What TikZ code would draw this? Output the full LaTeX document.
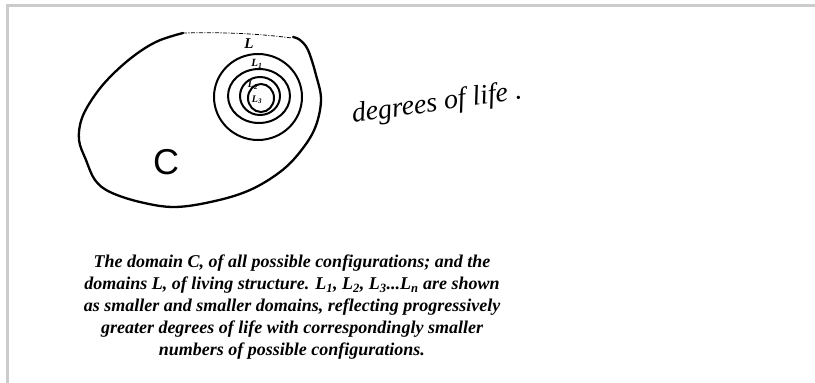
\documentclass[tikz,border=0pt]{standalone}
\usepackage{fontspec}
\setmainfont{Liberation Serif}
\setsansfont{Liberation Sans}

\begin{document}
\begin{tikzpicture}[
  x=1pt,
  y=-1pt,
  frame/.style={draw=black!20, line width=3pt},
  sketch/.style={line width=2.3pt, line cap=round, line join=round},
  ring/.style={line width=2pt},
  fence/.style={line width=0.8pt, dash pattern=on 4pt off 1.5pt on 1pt off 1.5pt},
  hand/.style={font=\itshape, inner sep=0pt},
  caption/.style={font=\fontsize{18}{22}\selectfont\bfseries\itshape, align=center, inner sep=0pt}
]
\useasboundingbox (0,0) rectangle (815,383);
\draw[frame] (7.5,383) -- (7.5,5.5) -- (815,5.5);

\draw[sketch] plot[smooth, tension=0.6] coordinates {(293,37) (300,40) (308,50) (316,75) (321,100) (315,128) (300,152) (280,172) (250,190) (215,201) (175,207) (140,202) (110,192) (95,180) (86,160) (79,140) (82,118) (95,95) (112,75) (135,55) (158,41) (183,33)};
\draw[fence] (183,33) .. controls (230,32) and (260,34) .. (292,38);

\draw[ring] (258,97) ellipse [x radius=44pt, y radius=43pt];
\draw[ring] (259,96) ellipse [x radius=31pt, y radius=27pt];
\draw[ring] (260,96) ellipse [x radius=20pt, y radius=19pt];
\draw[ring] (261,98) ellipse [x radius=13pt, y radius=14pt];

\node[hand, font=\fontsize{15}{15}\selectfont\bfseries\itshape] (lall) at (249,44) {L};
\node[hand, font=\fontsize{11}{11}\selectfont\bfseries\itshape] (lone) at (257,64) {L\textsubscript{1}};
\node[hand, font=\fontsize{10}{10}\selectfont\bfseries\itshape] (ltwo) at (253,85) {L\textsubscript{2}};
\node[hand, font=\fontsize{10}{10}\selectfont\bfseries\itshape] (lthree) at (257,100) {L\textsubscript{3}};

\node[inner sep=0pt, font=\fontsize{36}{36}\selectfont\sffamily] (cdom) at (166,162) {C};
\node[hand, rotate=8, font=\fontsize{28}{28}\selectfont\itshape] (life) at (437,104) {degrees of life .};

\node[caption] (cap) at (292,307) {The domain C, of all possible configurations; and the\\
domains L, of living structure. L\textsubscript{1}, L\textsubscript{2}, L\textsubscript{3}...L\textsubscript{n} are shown\\
as smaller and smaller domains, reflecting progressively\\
greater degrees of life with correspondingly smaller\\
numbers of possible configurations.};
\end{tikzpicture}
\end{document}
